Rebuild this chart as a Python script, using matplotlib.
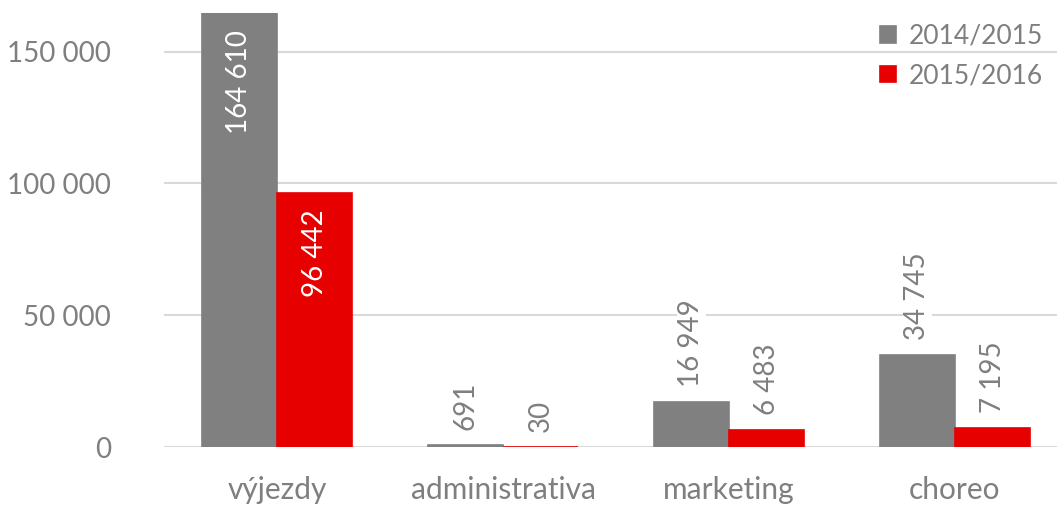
import matplotlib
matplotlib.use("Agg")
import matplotlib.pyplot as plt
import numpy as np

categories = ["výjezdy", "administrativa", "marketing", "choreo"]
series_names = ["2014/2015", "2015/2016"]
values_2014 = [164610, 691, 16949, 34745]
values_2015 = [96442, 30, 6483, 7195]
y_ticks = [0, 50000, 100000, 150000]

plt.rcParams['font.family'] = ['Lato', 'DejaVu Sans']
TEXT = "#7f7f7f"
GRID = "#d9d9d9"
colors_ = ["#808080", "#e60000"]


def fmt(v):
    return f"{v:,}".replace(",", " ")


fig = plt.figure(figsize=(10.57, 5.05), dpi=100)
ax = fig.add_axes([164 / 1057, 58 / 505, 904 / 1057, 434 / 505])

x = np.arange(len(categories))
w = 0.333
for k, (vals, name) in enumerate(zip([values_2014, values_2015], series_names)):
    xs = x + (k - 0.5) * w
    ax.bar(xs, vals, width=w, color=colors_[k], edgecolor=colors_[k], lw=1.2,
           label=name, zorder=2)
    for xi, v in zip(xs, vals):
        if v > 60000:
            ax.annotate(fmt(v), (xi, v), xytext=(0, -12), textcoords="offset points",
                        rotation=90, ha="center", va="top", color="white", fontsize=20,
                        zorder=4)
        else:
            ax.annotate(fmt(v), (xi, v), xytext=(0, 11), textcoords="offset points",
                        rotation=90, ha="center", va="bottom", color=TEXT, fontsize=20,
                        bbox=dict(facecolor="white", edgecolor="none", pad=1), zorder=4)

ax.set_xlim(-0.5, 3.5)
ax.set_ylim(0, 164610)
ax.set_yticks(y_ticks)
ax.set_yticklabels([fmt(t) for t in y_ticks])
ax.set_xticks(x)
ax.set_xticklabels(categories)
ax.tick_params(length=0, labelsize=20, colors=TEXT)
ax.tick_params(axis="y", pad=38)
ax.tick_params(axis="x", pad=21, labelsize=21.5)
ax.grid(axis="y", color=GRID, lw=1.5, zorder=0)
ax.set_axisbelow(True)
for s in ax.spines.values():
    s.set_visible(False)

fig.legend(loc="upper right", bbox_to_anchor=(1067 / 1057, 1.0), frameon=False,
           fontsize=19, labelcolor=TEXT, handlelength=0.6, handleheight=0.6,
           handletextpad=0.5, labelspacing=0.55)

fig.savefig("out.png", dpi=100)
